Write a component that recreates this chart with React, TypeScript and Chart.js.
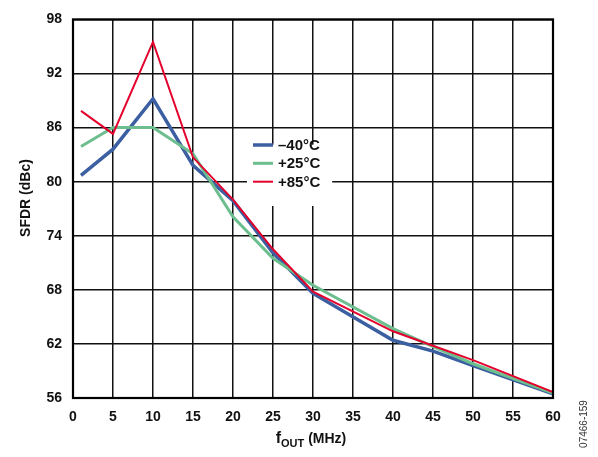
import React, { useEffect, useRef } from "react";
import { Chart, registerables } from "chart.js";
Chart.register(...registerables);

const freqMHz = [1, 5, 10, 15, 20, 25, 30, 40, 45, 50, 60];
const sfdrMinus40 = [80.7, 83.6, 89.2, 81.8, 77.9, 72.1, 67.6, 62.4, 61.2, 59.6, 56.45];
const sfdrPlus25 = [83.9, 86.0, 86.0, 83.1, 76.1, 71.5, 68.5, 63.7, 61.7, 59.8, 56.55];
const sfdrPlus85 = [87.85, 85.3, 95.5, 82.7, 78.0, 72.5, 67.8, 63.4, 61.8, 60.2, 56.65];
const seriesLabels = ["\u201340\u00B0C", "+25\u00B0C", "+85\u00B0C"];
const seriesColors = ["#3B5FA0", "#6DBE8F", "#E3002C"];
const seriesWidths = [3.5, 3, 2];
const yTitle = "SFDR (dBc)";
const xTitleMain = "f";
const xTitleSub = "OUT";
const xTitleRest = " (MHz)";
const figureId = "07466-159";

const FONT = "Arial, 'Liberation Sans', Helvetica, sans-serif";

export default function App() {
  const ref = useRef<HTMLCanvasElement>(null);
  useEffect(() => {
    if (!ref.current) return;
    const overlay = {
      id: "overlay",
      afterDatasetsDraw(chart: any) {
        const ctx = chart.ctx;
        const { left, right, top, bottom } = chart.chartArea;
        ctx.save();
        ctx.strokeStyle = "#000";
        ctx.lineWidth = 2.2;
        ctx.strokeRect(left, top, right - left, bottom - top);
        const xs = chart.scales.x;
        const ys = chart.scales.y;
        const bx = xs.getPixelForValue(21.75);
        const bxr = xs.getPixelForValue(32.4);
        const by = ys.getPixelForValue(84.1);
        const byb = ys.getPixelForValue(77.3);
        ctx.fillStyle = "#fff";
        ctx.fillRect(bx, by, bxr - bx, byb - by);
        const rowY = [145, 163.3, 181.7];
        ctx.font = `bold 15px ${FONT}`;
        ctx.textBaseline = "middle";
        ctx.textAlign = "left";
        for (let i = 0; i < 3; i++) {
          ctx.strokeStyle = seriesColors[i];
          ctx.lineWidth = seriesWidths[i];
          ctx.beginPath();
          ctx.moveTo(253, rowY[i]);
          ctx.lineTo(273, rowY[i]);
          ctx.stroke();
          ctx.fillStyle = "#111";
          ctx.fillText(seriesLabels[i], 278, rowY[i] + 1);
        }
        ctx.restore();
      },
      afterDraw(chart: any) {
        const ctx = chart.ctx;
        ctx.save();
        ctx.fillStyle = "#111";
        ctx.save();
        ctx.translate(26, 198);
        ctx.rotate(-Math.PI / 2);
        ctx.font = `bold 14px ${FONT}`;
        ctx.textAlign = "center";
        ctx.textBaseline = "middle";
        ctx.fillText(yTitle, 0, 0);
        ctx.restore();
        ctx.textBaseline = "alphabetic";
        ctx.textAlign = "left";
        ctx.font = `bold 16px ${FONT}`;
        const wMain = ctx.measureText(xTitleMain).width;
        ctx.font = `bold 11px ${FONT}`;
        const wSub = ctx.measureText(xTitleSub).width;
        ctx.font = `bold 14px ${FONT}`;
        const wRest = ctx.measureText(xTitleRest).width;
        const total = wMain + wSub + wRest;
        let x = 311 - total / 2;
        const base = 443;
        ctx.font = `bold 16px ${FONT}`;
        ctx.fillText(xTitleMain, x, base);
        x += wMain;
        ctx.font = `bold 11px ${FONT}`;
        ctx.fillText(xTitleSub, x, base + 4);
        x += wSub;
        ctx.font = `bold 14px ${FONT}`;
        ctx.fillText(xTitleRest, x, base);
        ctx.save();
        ctx.translate(584, 424);
        ctx.rotate(-Math.PI / 2);
        ctx.font = `10px ${FONT}`;
        ctx.fillStyle = "#333";
        ctx.textAlign = "center";
        ctx.textBaseline = "middle";
        ctx.fillText(figureId, 0, 0);
        ctx.restore();
        ctx.restore();
      },
    };
    const series = [sfdrMinus40, sfdrPlus25, sfdrPlus85];
    const chart = new Chart(ref.current, {
      type: "line",
      data: {
        datasets: series.map((s, i) => ({
          label: seriesLabels[i],
          data: freqMHz.map((f, j) => ({ x: f, y: s[j] })),
          borderColor: seriesColors[i],
          backgroundColor: seriesColors[i],
          borderWidth: seriesWidths[i],
          pointRadius: 0,
          tension: 0,
          fill: false,
          order: 2 - i,
        })),
      },
      options: {
        responsive: false,
        animation: false,
        events: [],
        layout: { padding: { left: 0, top: 16, right: 45, bottom: 0 } },
        plugins: { legend: { display: false }, tooltip: { enabled: false } },
        scales: {
          x: {
            type: "linear",
            min: 0,
            max: 60,
            afterFit: (s: any) => { s.height = 59; },
            ticks: {
              stepSize: 5,
              padding: 11,
              color: "#111",
              font: { family: FONT, size: 14, weight: "bold" },
            },
            grid: { color: "#111", lineWidth: 1.5, drawTicks: false },
            border: { display: false },
          },
          y: {
            min: 56,
            max: 98,
            afterFit: (s: any) => { s.width = 73; },
            ticks: {
              stepSize: 6,
              padding: 11,
              color: "#111",
              font: { family: FONT, size: 14, weight: "bold" },
            },
            grid: { color: "#111", lineWidth: 1.5, drawTicks: false },
            border: { display: false },
          },
        },
      },
      plugins: [overlay],
    });
    return () => chart.destroy();
  }, []);
  return (
    <div style={{ position: "fixed", left: 0, top: 0, width: 598, height: 457, background: "#fff" }}>
      <canvas ref={ref} width={598} height={457} style={{ display: "block" }} />
    </div>
  );
}
